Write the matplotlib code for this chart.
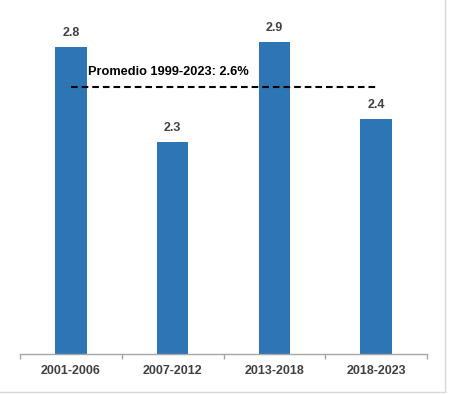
import matplotlib.pyplot as plt
from matplotlib.lines import Line2D

# Datos
periodos = ['2001-2006', '2007-2012', '2013-2018', '2018-2023']
crecimiento = [2.84, 2.27, 2.87, 2.41]
etiquetas = ['2.8', '2.3', '2.9', '2.4']
promedio = 2.6
texto_promedio = 'Promedio 1999-2023: 2.6%'

azul = '#2E75B6'
gris = '#404040'

plt.rcParams['font.family'] = ['Liberation Sans', 'DejaVu Sans']

fig = plt.figure(figsize=(4.5, 3.94), dpi=100)
ax = fig.add_axes([20 / 450, 40.5 / 394, 407 / 450, 333.2 / 394])

x = list(range(len(periodos)))
ax.bar(x, crecimiento, width=0.31, color=azul)
ax.set_ylim(1.0, 3.0)
ax.set_xlim(-0.5, len(periodos) - 0.5)

for xi, v, lab in zip(x, crecimiento, etiquetas):
    ax.text(xi, v + 0.045, lab, ha='center', va='bottom', fontsize=9,
            fontweight='bold', color=gris)

# Linea de promedio
ax.plot([0, 3], [promedio, promedio], color='black', lw=1.5,
        linestyle=(0, (3.2, 1.9)))
ax.text(0.17, promedio + 0.055, texto_promedio, ha='left', va='bottom',
        fontsize=9.2, fontweight='bold', color='black')

# Ejes
for s in ['top', 'right', 'left']:
    ax.spines[s].set_visible(False)
ax.spines['bottom'].set_color('#A6A6A6')
ax.spines['bottom'].set_linewidth(1.0)
ax.set_yticks([])
ax.set_xticks(x)
ax.set_xticklabels(periodos, fontsize=9, fontweight='bold', color=gris)
ax.tick_params(axis='x', which='major', length=0, pad=8)
ax.set_xticks([i - 0.5 for i in range(len(periodos) + 1)], minor=True)
ax.tick_params(axis='x', which='minor', length=3.5, color='#A6A6A6', width=1.0)

# Borde de la figura
fig.add_artist(Line2D([444.5 / 450, 444.5 / 450], [2.5 / 394, 1], color='#D9D9D9', lw=1))
fig.add_artist(Line2D([0, 444.5 / 450], [2.5 / 394, 2.5 / 394], color='#D9D9D9', lw=1))

fig.savefig('out.png', dpi=100)
